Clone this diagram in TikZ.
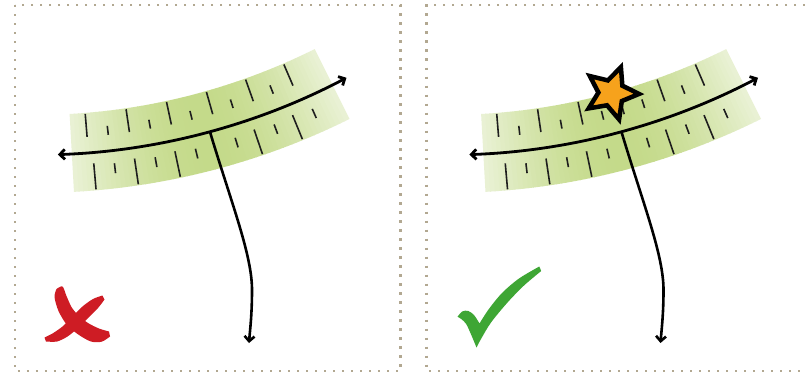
\documentclass[tikz,border=0pt]{standalone}
\usetikzlibrary{arrows.meta,shapes.geometric}
\definecolor{dotcol}{RGB}{178,168,145}
\definecolor{bandhi}{RGB}{196,218,138}
\definecolor{bandlo}{RGB}{234,242,214}
\definecolor{tickcol}{RGB}{30,30,30}
\definecolor{xred}{RGB}{206,28,36}
\definecolor{okgreen}{RGB}{62,166,52}
\definecolor{starfill}{RGB}{246,162,28}
\tikzset{
  frame/.style={dotcol, line width=2.4pt, dash pattern=on 2.4pt off 6.6pt},
  tickline/.style={tickcol, line width=1.6pt},
  axisline/.style={black, line width=2.8pt, {Straight Barb[length=5pt,width=10pt]}-{Straight Barb[length=5pt,width=10pt]}},
  stemline/.style={black, line width=2.6pt, -{Straight Barb[length=5pt,width=10pt]}},
  starshape/.style={star, star points=5, star point ratio=2.1, minimum size=55pt, inner sep=0pt,
    draw=black, line width=4.5pt, fill=starfill, rotate=-20},
}
\newcommand{\gaugedraw}[1]{%
  \begin{scope}[shift={(34.5,-514)}]
    \foreach \i in {0,...,59}{%
      \pgfmathsetmacro\ga{86.8-\i*23.2/60}%
      \pgfmathsetmacro\gb{\ga-23.2/60-0.06}%
      \pgfmathsetmacro\gp{100*sin(180*(\i+0.5)/60)}%
      \fill[bandhi!\gp!bandlo] (\ga:629) arc[start angle=\ga, end angle=\gb, radius=629]
        -- (\gb:707) arc[start angle=\gb, end angle=\ga, radius=707] -- cycle;
    }
    \foreach \k in {0,...,10}{%
      \pgfmathsetmacro\gt{85.38-1.87*\k}%
      \ifodd\k \draw[tickline] (\gt:644) -- (\gt:653);
      \else \draw[tickline] (\gt:630) -- (\gt:653); \fi
    }
    \foreach \k in {0,...,5,7,8,...,11}{%
      \pgfmathsetmacro\gt{85.0-1.73*\k}%
      \ifodd\k \draw[tickline] (\gt:682) -- (\gt:692);
      \else \draw[tickline] (\gt:680) -- (\gt:706); \fi
    }
    \coordinate (#1axL) at (88:669);
    \coordinate (#1axR) at (62.2:669);
    \coordinate (#1top) at (74.8:669);
    \draw[axisline] (#1axL) arc[start angle=88, end angle=62.2, radius=669];
  \end{scope}
  \coordinate (#1bot) at (249,343);
  \draw[stemline] (#1top) .. controls (232,205) and (252,255) .. (252,290)
    .. controls (252,315) and (250,330) .. (#1bot);
}
\begin{document}
\begin{tikzpicture}[x=1pt, y=-1pt]
\useasboundingbox (0,0) rectangle (805,372);
\fill[white] (0,0) rectangle (805,372);
% frames
\draw[frame] (15,5) rectangle (400.5,371);
\draw[frame] (805,5) -- (426.5,5) -- (426.5,371) -- (805,371);
% left panel
\begin{scope}
  \gaugedraw{L}
\end{scope}
% right panel
\begin{scope}[shift={(411.5,0)}]
  \gaugedraw{R}
  \node[starshape] (star) at (200,93) {};
\end{scope}
% red cross
\fill[xred] plot[smooth] coordinates {(56.5,289) (62.5,286.5) (66.5,296) (71.5,307) (78,315) (88,323) (99,328.5) (109,331.5)}
  -- plot[smooth] coordinates {(110,336.5) (101.7,341.7) (91,341.5) (79,335) (67,325) (58.5,311) (54.5,297) (56.5,289)} -- cycle;
\fill[xred] plot[smooth] coordinates {(102.5,295.5) (93,299) (82.5,306.5) (72.5,316.5) (62.5,326.5) (52.5,333.5) (44.5,337.5)}
  -- plot[smooth] coordinates {(46,341.5) (57,341.5) (67.5,336.5) (78,328) (88,318) (98,308) (104.5,299.5)} -- cycle;
% green check
\fill[okgreen] plot[smooth] coordinates {(457.5,316.7) (462.5,311.3) (468.3,311) (474,315) (479.5,323.5)}
  -- plot[smooth] coordinates {(479.5,323.5) (488.5,309.5) (502,293) (519,278.5) (539.3,266.5)}
  -- plot[smooth] coordinates {(541.2,271) (524,285.5) (507.5,302.5) (491,322.5) (481,339) (476.5,347.5)}
  -- plot[smooth] coordinates {(476.5,347.5) (471.5,335.5) (466.2,324) (461.2,319) (457.5,316.7)} -- cycle;
\end{tikzpicture}
\end{document}
